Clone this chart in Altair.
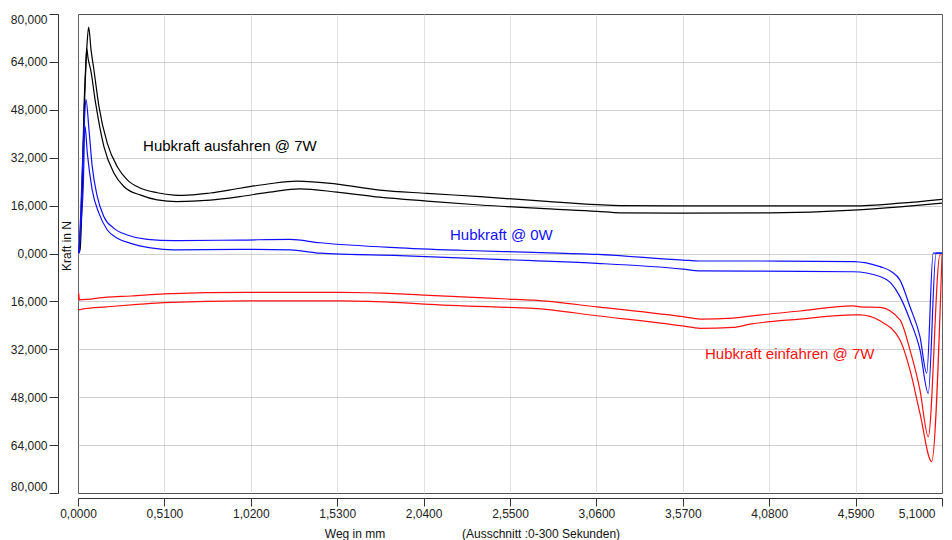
import altair as alt
import pandas as pd

# ---- data (x in mm, y in N) ----
black_upper_x = [0.006, 0.018, 0.030, 0.041, 0.053, 0.063, 0.077, 0.094, 0.124, 0.173, 0.232, 0.291,
                 0.370, 0.468, 0.567, 0.620, 0.780, 0.956, 1.130, 1.293, 1.529, 1.780, 2.060, 2.373,
                 2.786, 3.064, 3.199, 3.571, 4.085, 4.575, 4.852, 5.100]
black_upper_y = [0.5, 12.9, 34.6, 54.6, 69.6, 75.6, 68.0, 61.3, 49.0, 36.8, 29.0, 24.6,
                 21.8, 20.3, 19.5, 19.4, 20.2, 21.8, 23.3, 24.2, 23.2, 21.2, 20.1, 19.0,
                 17.3, 16.3, 16.0, 15.9, 15.9, 15.9, 16.8, 18.1]

black_lower_x = [0.006, 0.012, 0.024, 0.035, 0.045, 0.051, 0.060, 0.075, 0.104, 0.153, 0.2125, 0.272,
                 0.370, 0.468, 0.584, 0.780, 0.956, 1.130, 1.310, 1.529, 1.780, 2.060, 2.373, 2.786,
                 3.064, 3.199, 3.571, 4.085, 4.575, 4.852, 5.100]
black_lower_y = [0.3, 1.2, 17.9, 47.9, 62.0, 68.5, 65.0, 61.3, 50.2, 35.7, 26.8, 22.3,
                 19.5, 17.9, 17.3, 17.8, 19.0, 20.5, 21.6, 20.5, 18.8, 17.5, 16.2, 14.9,
                 14.1, 13.6, 13.5, 13.6, 14.5, 15.6, 16.8]

blue_upper_x = [0.006, 0.015, 0.025, 0.036, 0.047, 0.065, 0.084, 0.114, 0.153, 0.2125, 0.291, 0.409,
                0.567, 0.956, 1.251, 1.428, 1.900, 2.300, 2.686, 3.064, 3.571, 3.672, 3.967, 4.575,
                4.734, 4.800, 4.852, 4.911, 4.970, 5.010, 5.048, 5.100]
blue_upper_y = [0.1, 12.0, 27.8, 42.0, 51.5, 41.3, 29.0, 19.0, 12.3, 8.4, 6.2, 4.7,
                4.3, 4.5, 4.7, 3.6, 1.9, 1.0, 0.4, -0.3, -2.2, -2.5, -2.5, -2.7,
                -4.4, -6.0, -8.9, -17.8, -27.8, -40.0, 0.1, 0.1]

blue_lower_x = [0.006, 0.018, 0.031, 0.041, 0.055, 0.084, 0.124, 0.173, 0.232, 0.311, 0.429, 0.567,
                0.956, 1.251, 1.428, 1.900, 2.686, 3.064, 3.571, 3.672, 3.967, 4.575, 4.734, 4.800,
                4.852, 4.911, 4.970, 5.019, 5.065, 5.100]
blue_lower_y = [0.1, 10.0, 22.3, 42.6, 33.5, 21.2, 13.4, 7.85, 5.1, 3.4, 1.9, 1.2,
                1.4, 1.2, 0.1, -0.7, -2.4, -3.3, -5.2, -5.8, -5.9, -6.1, -7.7, -10.0,
                -14.4, -22.2, -32.2, -46.7, 0.1, 0.1]

red_upper_x = [0.000, 0.004, 0.008, 0.171, 0.313, 0.508, 0.998, 1.551, 1.900, 2.042, 2.532, 2.686,
               3.064, 3.571, 3.672, 3.866, 3.967, 4.262, 4.575, 4.616, 4.734, 4.852, 4.911, 4.970,
               5.019, 5.088, 5.100]
red_upper_y = [-15.5, -13.2, -15.5, -14.6, -14.2, -13.5, -13.0, -13.0, -13.5, -13.9, -15.2, -15.6,
               -17.8, -21.1, -21.9, -21.6, -20.9, -19.2, -17.5, -17.8, -18.0, -22.2, -32.2, -45.6,
               -61.2, -0.5, -0.5]

red_lower_x = [0.000, 0.006, 0.030, 0.171, 0.370, 0.508, 0.998, 1.551, 1.900, 2.042, 2.532, 2.686,
               3.064, 3.571, 3.672, 3.866, 3.967, 4.262, 4.575, 4.616, 4.734, 4.852, 4.911, 4.970,
               5.039, 5.100]
red_lower_y = [-18.6, -18.8, -18.5, -17.8, -16.9, -16.4, -15.8, -15.8, -16.4, -16.9, -18.0, -18.3,
               -20.8, -24.2, -25.0, -24.7, -23.6, -21.9, -20.5, -20.5, -22.5, -28.9, -38.9, -53.4,
               -69.5, -0.8]

series_names = ["Hubkraft ausfahren @ 7W", "Hubkraft @ 0W", "Hubkraft einfahren @ 7W"]
series_colors = ["#000000", "#1010ff", "#ff1010"]

label_x = [0.384, 2.196, 3.701]
label_y = [35.9, 6.2, -33.6]

x_ticks = [0.0, 0.51, 1.02, 1.53, 2.04, 2.55, 3.06, 3.57, 4.08, 4.59, 5.10]
y_ticks = [-80, -64, -48, -32, -16, 0, 16, 32, 48, 64, 80]

y_title = "Kraft in N"
x_title = "Weg in mm"
x_note = "(Ausschnitt :0-300 Sekunden)"

# ---- build table ----
lines = [
    ("b1", series_names[0], black_upper_x, black_upper_y),
    ("b2", series_names[0], black_lower_x, black_lower_y),
    ("u1", series_names[1], blue_upper_x, blue_upper_y),
    ("u2", series_names[1], blue_lower_x, blue_lower_y),
    ("r1", series_names[2], red_upper_x, red_upper_y),
    ("r2", series_names[2], red_lower_x, red_lower_y),
]
rows = []
for lid, s, xs_, ys_ in lines:
    for i, (xv, yv) in enumerate(zip(xs_, ys_)):
        rows.append({"line": lid, "series": s, "x": xv, "y": yv, "i": i})
df = pd.DataFrame(rows)

ann = pd.DataFrame({"text": series_names, "x": label_x, "y": label_y, "color": series_colors})

FONT = "Liberation Sans"

x_axis = alt.Axis(
    values=x_ticks,
    labelExpr="replace(format(datum.value, '.4f'), '.', ',')",
    offset=5, tickSize=8, labelPadding=2,
    grid=True, gridDash=[1, 1], gridColor="#c4c4c4",
    domainColor="#333333", tickColor="#333333",
    labelFont=FONT, labelFontSize=12, labelColor="#222222",
    labelAlign={"condition": {"test": "datum.value > 5", "value": "right"}, "value": "center"},
    labelOffset={"condition": {"test": "datum.value > 5", "value": -7}, "value": 0},
    title=None,
)
y_axis = alt.Axis(
    values=y_ticks,
    labelExpr="replace(format(abs(datum.value), '.3f'), '.', ',')",
    offset=20, tickSize=9, labelPadding=2, labelFlush=True,
    grid=True, gridDash=[1, 1], gridColor="#a0a0a0",
    domainColor="#333333", tickColor="#333333",
    labelFont=FONT, labelFontSize=12, labelColor="#222222",
    title=None,
)

xs = alt.Scale(domain=[0, 5.1], nice=False, zero=False)
ys = alt.Scale(domain=[-80, 80], nice=False, zero=False)

curves = alt.Chart(df).mark_line(strokeWidth=1.2, clip=True, interpolate="monotone").encode(
    x=alt.X("x:Q", scale=xs, axis=x_axis),
    y=alt.Y("y:Q", scale=ys, axis=y_axis),
    color=alt.Color("series:N", scale=alt.Scale(domain=series_names, range=series_colors), legend=None),
    detail="line:N",
    order="i:Q",
)

labels = alt.Chart(ann).mark_text(align="left", baseline="middle", font=FONT, fontSize=15).encode(
    x=alt.X("x:Q", scale=xs),
    y=alt.Y("y:Q", scale=ys),
    text="text:N",
    color=alt.Color("color:N", scale=None),
)

ytitle = alt.Chart(pd.DataFrame({"t": [y_title]})).mark_text(
    angle=270, align="center", baseline="middle", font=FONT, fontSize=12, color="#111111"
).encode(x=alt.value(-11), y=alt.value(232), text="t:N")

xtitle = alt.Chart(pd.DataFrame({"t": [x_title]})).mark_text(
    align="center", baseline="middle", font=FONT, fontSize=12, color="#111111"
).encode(x=alt.value(277), y=alt.value(520), text="t:N")

xnote = alt.Chart(pd.DataFrame({"t": [x_note]})).mark_text(
    align="center", baseline="middle", font=FONT, fontSize=12, color="#111111"
).encode(x=alt.value(463), y=alt.value(520), text="t:N")

chart = alt.layer(curves, labels, ytitle, xtitle, xnote).properties(
    width=864, height=479,
    padding={"left": 78, "top": 14, "right": 10, "bottom": 47},
    autosize=alt.AutoSizeParams(type="none"),
    background="white",
).configure_view(stroke="black", strokeWidth=1)

chart.save("out.html", embed_options={"renderer": "svg", "actions": False})
